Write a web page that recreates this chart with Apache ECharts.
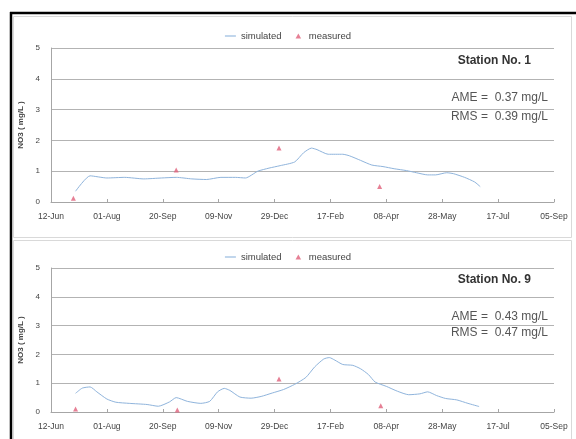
<!DOCTYPE html>
<html><head><meta charset="utf-8">
<script src="https://cdn.jsdelivr.net/npm/echarts@6/dist/echarts.min.js"></script>
<style>html,body{margin:0;padding:0;background:#fff}#c{width:576px;height:439px}</style>
</head><body><div id="c"></div>
<script>
// x values: days since 12-Jun-2010
const xTickLabels = ['12-Jun','01-Aug','20-Sep','09-Nov','29-Dec','17-Feb','08-Apr','28-May','17-Jul','05-Sep'];
const yTicks = [0,1,2,3,4,5];

const simDays1 = [22,35,50,66,83,99,112,126,139,152,165,174,185,195,205,218,226,233,238,248,261,267,277,287,297,307,318,327,337,344,354,360,370,379,384];
const simVals1 = [0.35,0.85,0.78,0.8,0.75,0.78,0.8,0.75,0.73,0.8,0.8,0.78,1.0,1.1,1.18,1.3,1.6,1.75,1.7,1.55,1.55,1.5,1.35,1.2,1.15,1.08,1.02,0.95,0.88,0.88,0.95,0.92,0.8,0.65,0.5];
const measDays1 = [20,112,204,294];
const measVals1 = [0.12,1.04,1.75,0.5];

const simDays9 = [22,28,35,41,50,58,70,86,96,106,112,122,134,142,149,155,160,169,179,188,198,208,218,228,236,244,249,254,261,270,277,284,290,300,310,320,330,337,345,353,363,373,383];
const simVals9 = [0.65,0.83,0.87,0.7,0.45,0.34,0.3,0.26,0.2,0.35,0.5,0.37,0.3,0.37,0.7,0.82,0.75,0.52,0.48,0.54,0.66,0.78,0.96,1.2,1.57,1.84,1.89,1.8,1.65,1.62,1.5,1.3,1.04,0.89,0.72,0.6,0.63,0.7,0.57,0.47,0.42,0.3,0.19];
const measDays9 = [22,113,204,295];
const measVals9 = [0.1,0.07,1.15,0.22];

const stations = ['Station No. 1','Station No. 9'];
const ameTexts = ['AME =  0.37 mg/L','AME =  0.43 mg/L'];
const rmsTexts = ['RMS =  0.39 mg/L','RMS =  0.47 mg/L'];

const zip = (a,b)=>a.map((v,i)=>[v,b[i]]);
const font = 'Liberation Sans, Arial, sans-serif';
const lineColor = '#8fb4dc';
const markColor = '#e0607a';
const triPath = 'path://M5,0L10,9L0,9Z';

function xAxis(gi){
  return {type:'value', gridIndex:gi, min:0, max:450, interval:50,
    axisLine:{show:true, lineStyle:{color:'#a6a6a6'}},
    axisTick:{show:true, inside:true, length:3, lineStyle:{color:'#a6a6a6'}},
    splitLine:{show:false},
    axisLabel:{margin:10, fontSize:8.5, color:'#444', fontFamily:font,
      formatter:(v)=>xTickLabels[Math.round(v/50)]||''}};
}
function yAxis(gi){
  return {type:'value', gridIndex:gi, min:yTicks[0], max:yTicks[yTicks.length-1], interval:1,
    name:'NO3 ( mg/L )', nameLocation:'middle', nameGap:25,
    nameTextStyle:{fontSize:8, fontWeight:'bold', color:'#444', fontFamily:font},
    axisLine:{show:true, lineStyle:{color:'#a6a6a6'}},
    axisTick:{show:false},
    splitLine:{show:true, lineStyle:{color:'#b3b3b3', width:1}},
    axisLabel:{margin:11, fontSize:8, color:'#444', fontFamily:font}};
}
function series(gi, sd, sv, md, mv){
  return [
    {name:'simulated', type:'line', xAxisIndex:gi, yAxisIndex:gi, data:zip(sd,sv), showSymbol:false, symbol:'none', smooth:0.2,
      lineStyle:{color:lineColor, width:1}, itemStyle:{color:lineColor}},
    {name:'measured', type:'scatter', xAxisIndex:gi, yAxisIndex:gi, data:zip(md,mv), symbol:'triangle', symbolSize:5,
      itemStyle:{color:markColor}}
  ];
}
function legend(top){
  return {top:top, left:'center', itemWidth:11, itemHeight:5, itemGap:14, symbolKeepAspect:true,
    data:[{name:'simulated', icon:'path://M0,0L10,0L10,1L0,1Z'},{name:'measured', icon:triPath}],
    textStyle:{fontSize:9.5, color:'#444', fontFamily:font}};
}
function stationTexts(yS, yA, yR, i){
  return [
    {type:'text', right:576-531, top:yS-7, style:{text:stations[i], font:'bold 12px '+font, fill:'#333'}},
    {type:'text', right:576-548, top:yA-7, style:{text:ameTexts[i], font:'12px '+font, fill:'#555'}},
    {type:'text', right:576-548, top:yR-7, style:{text:rmsTexts[i], font:'12px '+font, fill:'#555'}}
  ];
}

const chart = echarts.init(document.getElementById('c'), null, {renderer:'canvas'});
chart.setOption({
  animation:false,
  backgroundColor:'#fff',
  legend:[legend(26), legend(247)],
  grid:[{left:51, right:22, top:48, height:154},{left:51, right:22, top:268, height:144}],
  xAxis:[xAxis(0), xAxis(1)],
  yAxis:[yAxis(0), yAxis(1)],
  series:[...series(0, simDays1, simVals1, measDays1, measVals1), ...series(1, simDays9, simVals9, measDays9, measVals9)],
  graphic:[
    {type:'rect', shape:{x:13.5, y:16.5, width:558, height:221}, style:{fill:'none', stroke:'#d9d9d9', lineWidth:1}, silent:true},
    {type:'rect', shape:{x:13.5, y:240.5, width:558, height:200}, style:{fill:'none', stroke:'#d9d9d9', lineWidth:1}, silent:true},
    {type:'line', shape:{x1:10, y1:13, x2:576, y2:13}, style:{stroke:'#000', lineWidth:2.5}, silent:true},
    {type:'line', shape:{x1:11, y1:12, x2:11, y2:439}, style:{stroke:'#000', lineWidth:2.5}, silent:true},
    ...stationTexts(62, 99, 118, 0),
    ...stationTexts(281, 318, 334, 1)
  ]
});
</script></body></html>
